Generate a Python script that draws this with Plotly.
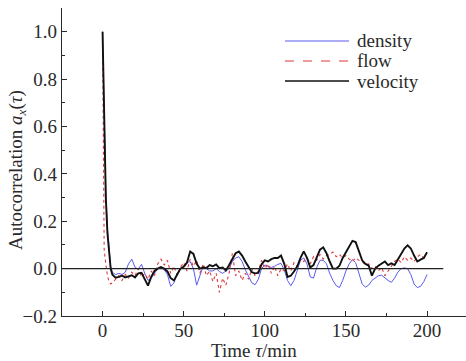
import plotly.graph_objects as go

# Time lag (min)
tau = [0, 1, 2, 3, 4, 5, 6] + list(range(8, 201, 2))

velocity = [1.0, 0.55, 0.3, 0.15, 0.06, 0.0, -0.025,
            -0.038, -0.035, -0.03, -0.037, -0.032, -0.028, -0.037, -0.02, -0.018, -0.045,
            -0.072, -0.035, -0.01, 0.0, 0.007, 0.0, -0.012, -0.04, -0.05, -0.025,
            0.0, 0.008, 0.025, 0.072, 0.062, 0.02, 0.0, 0.005, 0.003, 0.015,
            0.01, 0.018, 0.002, 0.005, -0.008, 0.015, 0.04, 0.065, 0.072, 0.055,
            0.03, 0.005, -0.015, -0.02, -0.018, 0.018, 0.035, 0.03, 0.04, 0.045,
            0.045, 0.055, 0.02, -0.035, -0.03, -0.012, 0.01, 0.045, 0.073, 0.045,
            0.005, 0.015, 0.05, 0.08, 0.09, 0.065, 0.03, 0.0, 0.0, 0.012,
            0.045, 0.068, 0.095, 0.117, 0.112, 0.07, 0.035, 0.02, 0.013, -0.03,
            0.0, 0.012, 0.02, 0.03, 0.015, 0.022, 0.015, 0.04, 0.065, 0.085,
            0.098, 0.085, 0.055, 0.03, 0.038, 0.045, 0.069]

density = [1.0, 0.6, 0.33, 0.17, 0.07, 0.01, -0.015,
           -0.025, -0.02, -0.025, -0.015, 0.02, 0.04, 0.005, -0.002, 0.018, -0.02,
           -0.05, -0.04, -0.02, 0.0, 0.003, -0.005, -0.025, -0.075, -0.06, -0.02,
           0.0, 0.01, 0.025, 0.03, 0.0, -0.07, -0.03, 0.01, 0.0, -0.01,
           -0.01, 0.0, -0.012, -0.02, -0.01, 0.0, 0.03, 0.045, 0.05, 0.03,
           -0.005, -0.035, -0.06, -0.068, -0.045, 0.0, 0.015, 0.01, 0.005, 0.01,
           0.018, 0.022, -0.005, -0.05, -0.072, -0.05, -0.01, 0.035, 0.045, 0.02,
           -0.035, -0.04, 0.005, 0.035, 0.035, 0.02, -0.02, -0.05, -0.072, -0.08,
           -0.05, -0.01, 0.02, 0.038, 0.025, -0.02, -0.065, -0.078, -0.07, -0.05,
           -0.04, -0.03, -0.028, -0.04, -0.05, -0.058, -0.04, -0.015, 0.0, 0.003,
           0.0, -0.025, -0.065, -0.08, -0.075, -0.055, -0.025]

flow = [1.0, 0.08, 0.02, -0.03, -0.055, -0.065, -0.06,
        -0.045, -0.03, -0.05, -0.025, -0.04, -0.015, -0.03, 0.0, -0.035, -0.02,
        -0.045, -0.01, -0.03, 0.02, 0.04, 0.015, 0.035, -0.02, 0.01, -0.03,
        0.005, 0.025, -0.01, 0.04, 0.01, 0.035, -0.02, 0.02, -0.03, -0.01,
        -0.055, -0.02, -0.1, -0.04, -0.07, -0.02, 0.065, -0.03, -0.01, -0.05,
        -0.02, -0.045, 0.0, -0.03, -0.01, 0.035, 0.0, 0.02, -0.02, 0.01,
        -0.03, 0.0, -0.01, 0.02, -0.01, 0.025, 0.01, 0.04, 0.03, 0.045,
        0.02, 0.05, 0.035, 0.06, 0.04, 0.055, 0.06, 0.07, 0.05, 0.06,
        0.045, 0.055, 0.04, 0.03, 0.045, 0.035, 0.03, 0.015, 0.02, 0.0,
        0.01, -0.01, 0.005, -0.03, -0.01, 0.01, 0.03, 0.04, 0.025, 0.05,
        0.035, 0.045, 0.03, 0.05, 0.06, 0.045, 0.04]

series_names = ["density", "flow", "velocity"]
series_colors = ["#5a5af0", "#e0393e", "#111111"]

x_range = [-25, 224]
y_range = [-0.2, 1.1]
zero_line_span = [-25, 210]

FONT = "Liberation Serif"
AXC = "#2a2a2a"
FS = 19

styles = [dict(color=series_colors[0], width=1),
          dict(color=series_colors[1], width=1.1, dash="dot"),
          dict(color=series_colors[2], width=1.9)]

fig = go.Figure()
for name, ys, st in zip(series_names, [density, flow, velocity], styles):
    fig.add_trace(go.Scatter(x=tau, y=ys, mode="lines", name=name,
                             line=st, showlegend=False))

fig.add_shape(type="line", xref="x", yref="y",
              x0=zero_line_span[0], x1=zero_line_span[1], y0=0, y1=0,
              line=dict(color="#222222", width=1.4), layer="above")

# Legend drawn as keys + labels (paper coordinates)
L = 62; W = 404; T = 8; H = 308
def px_x(p): return (p - L) / W
def px_y(p): return 1 - (p - T) / H
for i, (name, st) in enumerate(zip(series_names, styles)):
    yy = px_y(41 + 20 * i)
    fig.add_shape(type="line", xref="paper", yref="paper",
                  x0=px_x(285), x1=px_x(349), y0=yy, y1=yy,
                  line=dict(color=st["color"], width=1.6 if i == 2 else 1.2,
                            dash="dash" if i == 1 else "solid"))
    fig.add_annotation(text=name, xref="paper", yref="paper",
                       x=px_x(355), y=yy, xanchor="left", yanchor="middle",
                       showarrow=False, font=dict(size=FS, family=FONT, color=AXC))

fig.update_layout(
    width=466, height=361,
    margin=dict(l=62, r=0, t=8, b=45),
    plot_bgcolor="white", paper_bgcolor="white",
    font=dict(family=FONT, size=FS, color=AXC),
    showlegend=False,
    xaxis=dict(range=x_range, showgrid=False, zeroline=False,
               showline=True, linecolor=AXC, linewidth=1.4,
               ticks="inside", ticklen=5, tickwidth=1.2, tickcolor=AXC,
               tick0=0, dtick=50, ticklabelstandoff=-3,
               minor=dict(ticks="inside", ticklen=3, tickwidth=1, tickcolor=AXC, dtick=25),
               tickfont=dict(size=FS, family=FONT)),
    yaxis=dict(range=y_range, showgrid=False, zeroline=False,
               showline=True, linecolor=AXC, linewidth=1.4,
               ticks="inside", ticklen=5, tickwidth=1.2, tickcolor=AXC,
               tick0=0, dtick=0.2, tickformat=".1f",
               minor=dict(ticks="inside", ticklen=3, tickwidth=1, tickcolor=AXC, dtick=0.1),
               tickfont=dict(size=FS, family=FONT)),
)

fig.add_annotation(text="Autocorrelation <i>a</i><sub><i>x</i></sub>(<i>τ</i>)",
                   xref="paper", yref="paper", x=px_x(17), y=px_y(170),
                   xanchor="center", yanchor="middle", textangle=-90,
                   showarrow=False, font=dict(size=FS, family=FONT, color=AXC))
fig.add_annotation(text="Time <i>τ</i>/min", xref="paper", yref="paper",
                   x=px_x(254), y=px_y(350), xanchor="center", yanchor="middle",
                   showarrow=False, font=dict(size=FS, family=FONT, color=AXC))

fig.write_html("out.html")
